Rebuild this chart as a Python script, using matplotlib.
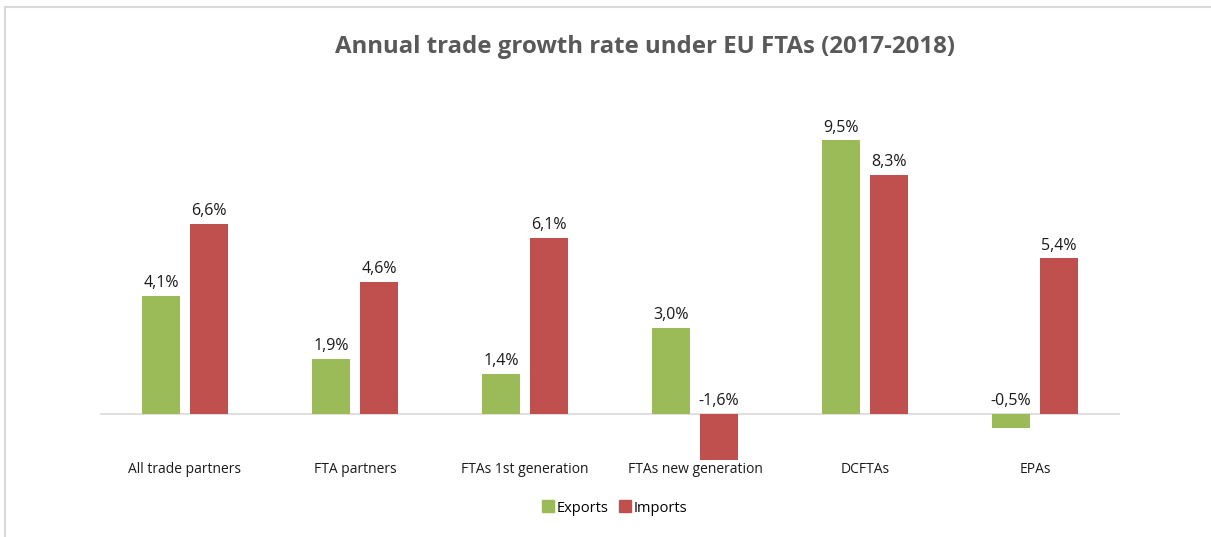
import matplotlib.pyplot as plt
from matplotlib.lines import Line2D
import numpy as np

categories = ['All trade partners', 'FTA partners', 'FTAs 1st generation',
              'FTAs new generation', 'DCFTAs', 'EPAs']
exports = [4.1, 1.9, 1.4, 3.0, 9.5, -0.5]
imports = [6.6, 4.6, 6.1, -1.6, 8.3, 5.4]

green = '#9BBB59'
red = '#C0504D'

plt.rcParams['font.family'] = ['Open Sans', 'DejaVu Sans']

W, H = 1211, 537
fig = plt.figure(figsize=(W / 100, H / 100), dpi=100)

# axes placed in pixel terms: zero line ~414px, ~28.8 px per percent
ax_left, ax_right = 100 / W, 1120 / W
ax_top, ax_bot = 68.4, 471.6
ax = fig.add_axes([ax_left, 1 - ax_bot / H, ax_right - ax_left, (ax_bot - ax_top) / H])

x = np.arange(len(categories))
bw = 0.224
off = 0.141
ax.bar(x - off, exports, bw, color=green, label='Exports')
ax.bar(x + off, imports, bw, color=red, label='Imports')

ax.set_xlim(-0.5, len(categories) - 0.5)
ax.set_ylim(-2, 12)
ax.axhline(0, color='#d9d9d9', lw=1.2, zorder=0)
for s in ax.spines.values():
    s.set_visible(False)
ax.set_xticks([])
ax.set_yticks([])

def fmt(v):
    return f'{v:.1f}%'.replace('.', ',')

for xi, v in zip(x - off, exports):
    ax.text(xi, max(v, 0) + 0.17, fmt(v), ha='center', va='bottom', fontsize=11.5, color='#1a1a1a')
for xi, v in zip(x + off, imports):
    ax.text(xi, max(v, 0) + 0.17, fmt(v), ha='center', va='bottom', fontsize=11.5, color='#1a1a1a')

for xi, c in zip(x, categories):
    ax.text(xi, -1.92, c, ha='center', va='center', fontsize=10, color='#1a1a1a')

fig.text(645 / W, 1 - 47 / H, 'Annual trade growth rate under EU FTAs (2017-2018)',
         ha='center', va='center', fontsize=17.3, fontweight='bold', color='#595959')

handles = [Line2D([], [], marker='s', ls='', color=green, markersize=8),
           Line2D([], [], marker='s', ls='', color=red, markersize=8)]
fig.legend(handles, ['Exports', 'Imports'], loc='center', bbox_to_anchor=(614 / W, 1 - 508 / H),
           ncol=2, frameon=False, fontsize=10.5, handletextpad=0.1, columnspacing=0.6,
           handlelength=1.0)

# light frame lines at top and left
fig.add_artist(Line2D([5 / W, 1], [1 - 7 / H, 1 - 7 / H], color='#d9d9d9', lw=1.5))
fig.add_artist(Line2D([5 / W, 5 / W], [0, 1 - 7 / H], color='#d9d9d9', lw=1.5))

fig.savefig('out.png', dpi=100, facecolor='white')
